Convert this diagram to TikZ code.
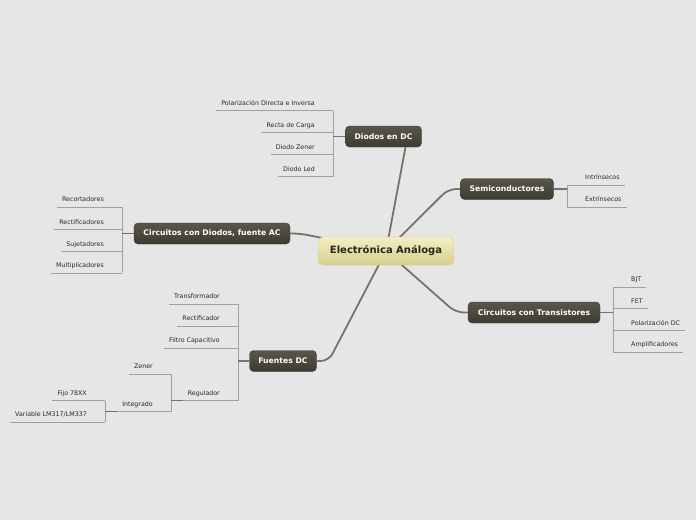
\documentclass[tikz,border=0pt]{standalone}
\usepackage{fontspec}
\setmainfont{DejaVu Sans}
\usetikzlibrary{calc}
\definecolor{paper}{RGB}{230,230,230}
\definecolor{bark}{RGB}{88,86,72}
\definecolor{barkdark}{RGB}{62,60,50}
\definecolor{branchcol}{RGB}{118,116,102}
\definecolor{twigcol}{RGB}{160,160,156}
\definecolor{leaftext}{RGB}{40,40,40}
\definecolor{roottop}{RGB}{243,239,194}
\definecolor{rootbot}{RGB}{214,206,140}
\definecolor{roottext}{RGB}{38,38,30}

\tikzset{
  topic/.style={rounded corners=4pt,top color=bark,bottom color=barkdark,draw=barkdark,
    text=white,font=\fontsize{7.7}{9}\selectfont\bfseries,minimum height=21pt,inner xsep=0pt},
  rootbox/.style={rounded corners=5pt,top color=roottop,bottom color=rootbot,draw=rootbot,
    text=roottext,font=\fontsize{10}{12}\selectfont\bfseries,minimum width=136pt,minimum height=28pt},
  twig/.style={draw=twigcol,line width=0.8pt},
  stem/.style={draw=branchcol,line width=1.4pt},
  branch/.style={draw=branchcol,line width=1.8pt,rounded corners=8pt},
  leaf/.style={font=\fontsize{6.3}{7}\selectfont,text=leaftext,inner xsep=0pt,inner ysep=3.9pt,
    text height=4.6pt,text depth=1.3pt,
    append after command={(\tikzlastnode.south west) edge[twig] (\tikzlastnode.south east)}},
  leafL/.style={leaf,anchor=south east,execute at begin node={\hspace*{5pt}},execute at end node={\hspace*{18pt}}},
  leafR/.style={leaf,anchor=south west,execute at begin node={\hspace*{18pt}},execute at end node={\hspace*{5pt}}},
}

\begin{document}
\begin{tikzpicture}[x=1pt,y=-1pt]
  \fill[paper] (0,0) rectangle (696,520);
  \useasboundingbox (0,0) rectangle (696,520);

  % main topics
  \node[topic,minimum width=76pt] (ddc) at (383.5,136.5) {Diodos en DC};
  \node[topic,minimum width=93pt] (sem) at (507,189) {Semiconductores};
  \node[topic,minimum width=132pt] (ctr) at (534,312.5) {Circuitos con Transistores};
  \node[topic,minimum width=67pt] (fdc) at (283,361) {Fuentes DC};
  \node[topic,minimum width=156pt] (cda) at (212,233.5) {Circuitos con Diodos, fuente AC};

  \coordinate (hub) at (386,251);
  \draw[branch] (hub) -- ([xshift=22pt]ddc.south);
  \draw[branch] (hub) -- ([xshift=-12pt]sem.west) -- (sem.west);
  \draw[branch] (hub) -- ([xshift=-12pt]ctr.west) -- (ctr.west);
  \draw[branch] (hub) -- ([xshift=12pt]fdc.east) -- (fdc.east);
  \draw[branch] (hub) -- ([xshift=10pt]cda.east) -- (cda.east);
  \node[rootbox] (root) at (hub) {Electrónica Análoga};

  % Diodos en DC
  \foreach \n/\y/\t in {pdi/110.5/{Polarización Directa e Inversa},rdc/132.5/{Recta de Carga},
      dze/154.5/{Diodo Zener},dled/176.5/{Diodo Led}}
    \node[leafL] (\n) at (333,\y) {\t};
  \draw[twig] (pdi.south east) -- (dled.south east);
  \draw[stem] (ddc.west) -- (ddc.west -| pdi.south east);

  % Semiconductores
  \foreach \n/\y/\t in {intr/185/{Intrínsecos},extr/207/{Extrínsecos}}
    \node[leafR] (\n) at (567,\y) {\t};
  \draw[twig] (intr.south west) -- (extr.south west);
  \draw[stem] (sem.east) -- (sem.east -| intr.south west);

  % Circuitos con Transistores
  \foreach \n/\y/\t in {bjt/287/{BJT},fet/308.5/{FET},pdc/330.5/{Polarización DC},amp/352/{Amplificadores}}
    \node[leafR] (\n) at (613,\y) {\t};
  \draw[twig] (bjt.south west) -- (amp.south west);
  \draw[stem] (ctr.east) -- (ctr.east -| bjt.south west);

  % Circuitos con Diodos, fuente AC
  \foreach \n/\y/\t in {rec/207/{Recortadores},rcf/229.5/{Rectificadores},suj/251.5/{Sujetadores},mul/273/{Multiplicadores}}
    \node[leafL] (\n) at (122,\y) {\t};
  \draw[twig] (rec.south east) -- (mul.south east);
  \draw[stem] (cda.west) -- (cda.west -| rec.south east);

  % Fuentes DC
  \foreach \n/\y/\t in {tra/304/{Transformador},rct/326/{Rectificador},fil/348/{Filtro Capacitivo},reg/400.7/{Regulador}}
    \node[leafL] (\n) at (238,\y) {\t};
  \draw[twig] (tra.south east) -- (reg.south east);
  \draw[stem] (fdc.west) -- (fdc.west -| tra.south east);

  \node[leafL] (zen) at (171,374) {Zener};
  \node[leafL] (integ) at (171,411.7) {Integrado};
  \draw[twig] (zen.south east) -- (integ.south east);
  \draw[stem] (reg.south west) -- (reg.south west -| zen.south east);

  \node[leafL] (fij) at (105,400.7) {Fijo 78XX};
  \node[leafL] (var) at (105,422.3) {Variable LM317/LM337};
  \draw[twig] (fij.south east) -- (var.south east);
  \draw[stem] (integ.south west) -- (integ.south west -| fij.south east);
\end{tikzpicture}
\end{document}
